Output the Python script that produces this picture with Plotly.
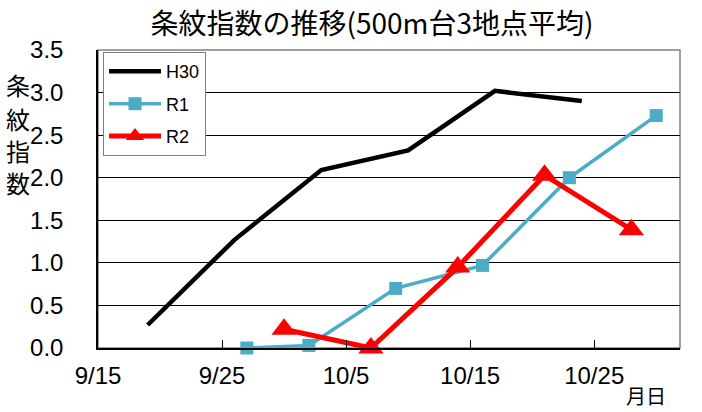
import plotly.graph_objects as go

# Data (dates mapped to a common dummy year)
h30_dates = ["2000-09-19", "2000-09-26", "2000-10-03", "2000-10-10", "2000-10-17", "2000-10-24"]
h30_vals = [0.27, 1.27, 2.09, 2.32, 3.02, 2.90]

r1_dates = ["2000-09-27", "2000-10-02", "2000-10-09", "2000-10-16", "2000-10-23", "2000-10-30"]
r1_vals = [0.0, 0.03, 0.70, 0.97, 2.00, 2.73]

r2_dates = ["2000-09-30", "2000-10-07", "2000-10-14", "2000-10-21", "2000-10-28"]
r2_vals = [0.22, 0.0, 0.95, 2.03, 1.39]

tick_dates = ["2000-09-15", "2000-09-25", "2000-10-05", "2000-10-15", "2000-10-25"]
tick_labels = ["9/15", "9/25", "10/5", "10/15", "10/25"]

title_text = "条紋指数の推移(500m台3地点平均)"
y_title_chars = ["条", "紋", "指", "数"]
x_title = "月日"

JP = "Noto Sans CJK JP"
NUM = "Liberation Sans"

fig = go.Figure()
fig.add_trace(go.Scatter(x=h30_dates, y=h30_vals, name="H30", mode="lines", legendgroup="a",
                         line=dict(color="black", width=4.5), cliponaxis=False))
fig.add_trace(go.Scatter(x=r1_dates, y=r1_vals, name="R1", mode="lines+markers", legendgroup="b",
                         line=dict(color="#4BACC6", width=3.5),
                         marker=dict(symbol="square", size=13, color="#4BACC6"),
                         cliponaxis=False))
fig.add_trace(go.Scatter(x=r2_dates, y=r2_vals, name="R2", mode="lines+markers", legendgroup="c",
                         line=dict(color="#FF0000", width=5),
                         marker=dict(symbol="triangle-up", size=22, color="#FF0000"),
                         cliponaxis=False))

y_char_pos = [0.8826, 0.7718, 0.6611, 0.5570]
annotations = [
    dict(text=ch, xref="paper", yref="paper", x=-0.1375, y=yp,
         xanchor="center", yanchor="middle", showarrow=False,
         font=dict(family=JP, size=24, color="black"))
    for ch, yp in zip(y_title_chars, y_char_pos)
]
annotations.append(
    dict(text=x_title, xref="paper", yref="paper", x=0.9416, y=-0.158,
         xanchor="center", yanchor="middle", showarrow=False,
         font=dict(family=JP, size=20, color="black")))

fig.update_layout(
    width=702, height=412,
    margin=dict(l=98, r=22, t=50, b=64),
    plot_bgcolor="white", paper_bgcolor="white",
    showlegend=True,
    title=dict(text=title_text, xref="container", yref="container",
               x=0.53, xanchor="center", y=0.9417, yanchor="middle",
               font=dict(family=JP, size=28, color="black")),
    legend=dict(x=0.0086, y=0.993, xanchor="left", yanchor="top",
                bgcolor="white", bordercolor="#808080", borderwidth=1,
                font=dict(family=NUM, size=18, color="black"),
                tracegroupgap=6, itemwidth=52),
    xaxis=dict(type="date", range=["2000-09-15", "2000-10-31 22:00"],
               tickvals=tick_dates, ticktext=tick_labels,
               ticks="inside", ticklen=8, tickcolor="black",
               showgrid=False, showline=True, linecolor="black", linewidth=1.5,
               ticklabelstandoff=5,
               tickfont=dict(family=NUM, size=24, color="black"), zeroline=False),
    yaxis=dict(range=[0, 3.5], dtick=0.5, tickformat=".1f",
               showgrid=True, gridcolor="black", gridwidth=1,
               showline=True, linecolor="black", linewidth=1.5,
               ticks="", ticklabelstandoff=28,
               tickfont=dict(family=NUM, size=24, color="black"), zeroline=False),
    shapes=[dict(type="rect", xref="paper", yref="paper", x0=0, y0=0, x1=1, y1=1,
                 line=dict(color="#808080", width=1.5), layer="below")],
    annotations=annotations,
)

fig.write_html("out.html", config={"displayModeBar": False},
               post_script="document.body.style.margin='0';")
